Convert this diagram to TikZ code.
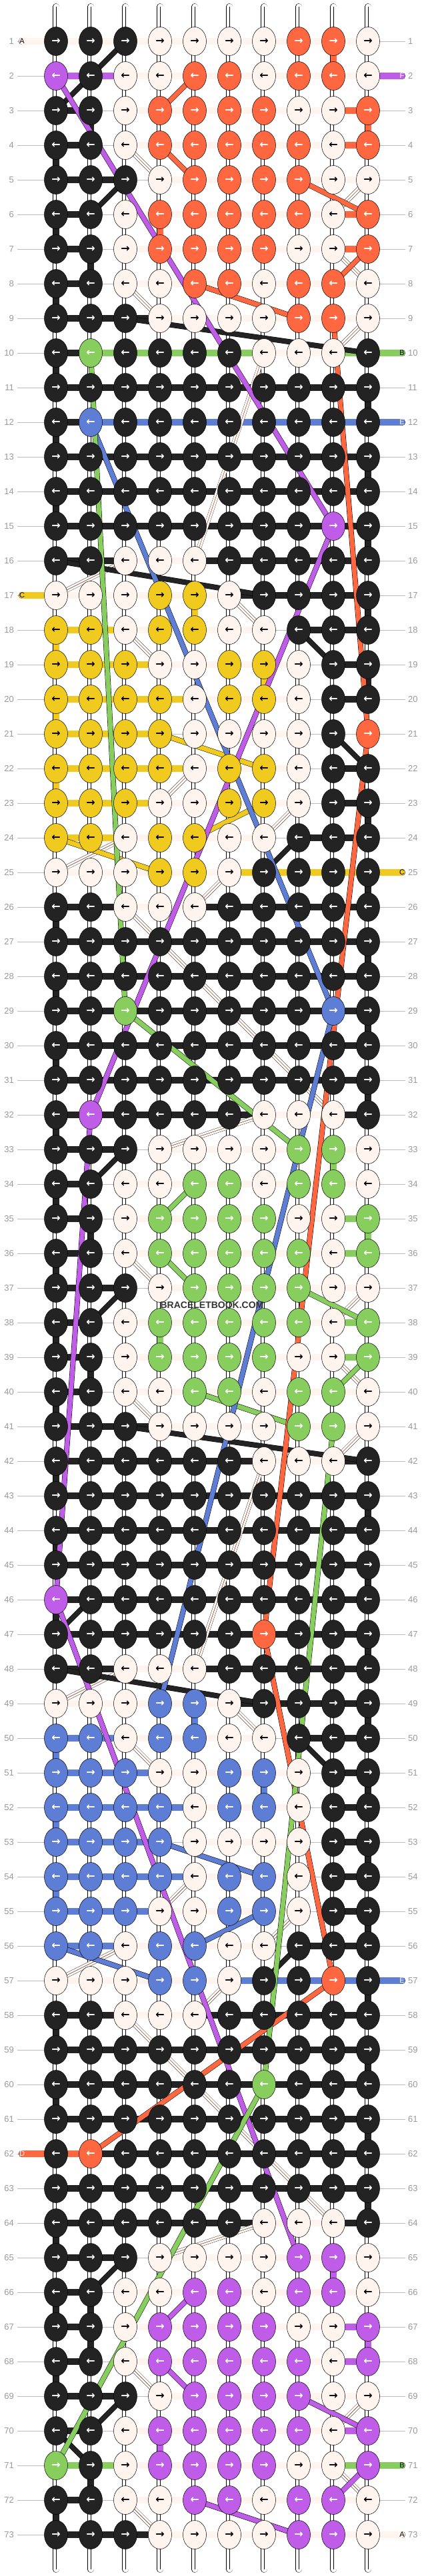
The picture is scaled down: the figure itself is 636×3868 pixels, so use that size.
\documentclass[tikz,border=0pt]{standalone}
\usepackage{fontspec}
\setmainfont{Liberation Sans}
\newfontfamily\arrowfont{DejaVu Sans}
\usetikzlibrary{shapes.geometric}

% thread colours
\definecolor{knK}{HTML}{232323}
\definecolor{knW}{HTML}{FFF5EE}
\definecolor{knO}{HTML}{FF6740}
\definecolor{knP}{HTML}{BF5CE8}
\definecolor{knG}{HTML}{87CE5E}
\definecolor{knB}{HTML}{5E7DD4}
\definecolor{knY}{HTML}{F0CA1F}
\definecolor{numgray}{HTML}{999999}
\definecolor{linegray}{HTML}{BBBBBB}
% arrow colour on each knot colour
\colorlet{arK}{white}\colorlet{arO}{white}\colorlet{arP}{white}
\colorlet{arG}{white}\colorlet{arB}{white}
\colorlet{arW}{black}\colorlet{arY}{black}

\def\nobar{N}

% knot colours, row by row
\def\knotrows{%
1/{K,K,K,W,W,W,W,O,O,W},2/{P,K,W,W,O,O,W,O,O,W},3/{K,K,W,O,O,O,O,W,W,O},%
4/{K,K,W,O,O,O,O,O,W,O},5/{K,K,K,W,O,O,O,O,W,W},6/{K,K,W,O,O,O,O,O,W,O},%
7/{K,K,W,O,O,O,O,W,W,O},8/{K,K,W,W,O,O,W,O,O,W},9/{K,K,K,W,W,W,W,O,O,W},%
10/{K,G,K,K,K,K,W,W,W,K},11/{K,K,K,K,K,K,K,K,K,K},12/{K,B,K,K,K,K,K,K,K,K},%
13/{K,K,K,K,K,K,K,K,K,K},14/{K,K,K,K,K,K,K,K,K,K},15/{K,K,K,K,K,K,K,K,P,K},%
16/{K,K,W,W,W,K,K,K,K,K},17/{W,W,W,Y,Y,W,K,K,K,K},18/{Y,Y,W,Y,Y,W,W,K,K,K},%
19/{Y,Y,Y,W,W,Y,Y,W,K,K},20/{Y,Y,Y,Y,W,Y,Y,W,K,K},21/{Y,Y,Y,Y,W,W,W,W,K,O},%
22/{Y,Y,Y,Y,W,Y,Y,W,K,K},23/{Y,Y,Y,W,W,Y,Y,W,K,K},24/{Y,Y,W,Y,Y,W,W,K,K,K},%
25/{W,W,W,Y,Y,W,K,K,K,K},26/{K,K,W,W,W,K,K,K,K,K},27/{K,K,K,K,K,K,K,K,K,K},%
28/{K,K,K,K,K,K,K,K,K,K},29/{K,K,G,K,K,K,K,K,B,K},30/{K,K,K,K,K,K,K,K,K,K},%
31/{K,K,K,K,K,K,K,K,K,K},32/{K,P,K,K,K,K,W,W,W,K},33/{K,K,K,W,W,W,W,G,G,W},%
34/{K,K,W,W,G,G,W,G,G,W},35/{K,K,W,G,G,G,G,W,W,G},36/{K,K,W,G,G,G,G,G,W,G},%
37/{K,K,K,W,G,G,G,G,W,W},38/{K,K,W,G,G,G,G,G,W,G},39/{K,K,W,G,G,G,G,W,W,G},%
40/{K,K,W,W,G,G,W,G,G,W},41/{K,K,K,W,W,W,W,G,G,W},42/{K,K,K,K,K,K,W,W,W,K},%
43/{K,K,K,K,K,K,K,K,K,K},44/{K,K,K,K,K,K,K,K,K,K},45/{K,K,K,K,K,K,K,K,K,K},%
46/{P,K,K,K,K,K,K,K,K,K},47/{K,K,K,K,K,K,O,K,K,K},48/{K,K,W,W,W,K,K,K,K,K},%
49/{W,W,W,B,B,W,K,K,K,K},50/{B,B,W,B,B,W,W,K,K,K},51/{B,B,B,W,W,B,B,W,K,K},%
52/{B,B,B,B,W,B,B,W,K,K},53/{B,B,B,B,W,W,W,W,K,K},54/{B,B,B,B,W,B,B,W,K,K},%
55/{B,B,B,W,W,B,B,W,K,K},56/{B,B,W,B,B,W,W,K,K,K},57/{W,W,W,B,B,W,K,K,O,K},%
58/{K,K,W,W,W,K,K,K,K,K},59/{K,K,K,K,K,K,K,K,K,K},60/{K,K,K,K,K,K,G,K,K,K},%
61/{K,K,K,K,K,K,K,K,K,K},62/{K,O,K,K,K,K,K,K,K,K},63/{K,K,K,K,K,K,K,K,K,K},%
64/{K,K,K,K,K,K,W,W,W,K},65/{K,K,K,W,W,W,W,P,P,W},66/{K,K,W,W,P,P,W,P,P,W},%
67/{K,K,W,P,P,P,P,W,W,P},68/{K,K,W,P,P,P,P,P,W,P},69/{K,K,K,W,P,P,P,P,W,W},%
70/{K,K,W,P,P,P,P,P,W,P},71/{G,K,W,P,P,P,P,W,W,P},72/{K,K,W,W,P,P,W,P,P,W},%
73/{K,K,K,W,W,W,W,P,P,W}}

% horizontal bars between neighbouring knots (N = none)
\def\barrows{%
1/{W,W,W,W,W,W,W,W,W},2/{P,P,W,W,W,W,W,W,W},3/{K,N,W,W,W,W,W,W,O},%
4/{K,N,W,W,W,W,W,W,O},5/{K,K,N,W,W,W,W,W,W},6/{K,N,W,W,W,W,W,W,O},%
7/{K,N,W,W,W,W,W,W,O},8/{K,N,W,W,W,W,W,W,W},9/{K,K,K,W,W,W,W,W,W},%
10/{K,G,G,G,G,G,W,W,G},11/{K,K,K,K,K,K,K,K,K},12/{K,B,B,B,B,B,B,B,B},%
13/{K,K,K,K,K,K,K,K,K},14/{K,K,K,K,K,K,K,K,K},15/{K,K,K,K,K,K,K,K,K},%
16/{K,K,W,W,K,K,K,K,K},17/{W,W,W,W,W,K,K,K,K},18/{Y,Y,W,W,W,W,N,K,K},%
19/{Y,Y,Y,W,W,W,W,N,K},20/{Y,Y,Y,Y,W,W,W,N,K},21/{Y,Y,Y,N,W,W,W,N,N},%
22/{Y,Y,Y,Y,W,W,W,N,K},23/{Y,Y,Y,W,W,W,W,N,K},24/{Y,Y,W,W,W,W,N,K,K},%
25/{W,W,W,W,W,Y,Y,Y,Y},26/{K,K,W,W,K,K,K,K,K},27/{K,K,K,K,K,K,K,K,K},%
28/{K,K,K,K,K,K,K,K,K},29/{K,K,K,K,K,K,K,K,K},30/{K,K,K,K,K,K,K,K,K},%
31/{K,K,K,K,K,K,K,K,K},32/{K,K,K,K,K,K,W,W,K},33/{K,K,N,W,W,W,W,W,W},%
34/{K,N,W,W,W,W,W,W,W},35/{K,N,W,W,W,W,W,W,G},36/{K,N,W,W,W,W,W,W,G},%
37/{K,K,N,W,W,W,W,W,W},38/{K,N,W,W,W,W,W,W,G},39/{K,N,W,W,W,W,W,W,G},%
40/{K,N,W,W,W,W,W,W,W},41/{K,K,K,W,W,W,W,W,W},42/{K,K,K,K,K,K,W,W,K},%
43/{K,K,K,K,K,K,K,K,K},44/{K,K,K,K,K,K,K,K,K},45/{K,K,K,K,K,K,K,K,K},%
46/{K,K,K,K,K,K,K,K,K},47/{K,K,K,K,K,K,K,K,K},48/{K,K,W,W,K,K,K,K,K},%
49/{W,W,W,W,W,K,K,K,K},50/{B,B,W,W,W,W,N,K,K},51/{B,B,B,W,W,W,W,N,K},%
52/{B,B,B,B,W,W,W,N,K},53/{B,B,B,N,W,W,W,N,K},54/{B,B,B,B,W,W,W,N,K},%
55/{B,B,B,W,W,W,W,N,K},56/{B,B,W,W,W,W,N,K,K},57/{W,W,W,W,W,B,B,B,B},%
58/{K,K,W,W,K,K,K,K,K},59/{K,K,K,K,K,K,K,K,K},60/{K,K,K,K,K,K,K,K,K},%
61/{K,K,K,K,K,K,K,K,K},62/{O,K,K,K,K,K,K,K,K},63/{K,K,K,K,K,K,K,K,K},%
64/{K,K,K,K,K,K,W,W,K},65/{K,K,N,W,W,W,W,W,W},66/{K,N,W,W,W,W,W,W,W},%
67/{K,N,W,W,W,W,W,W,P},68/{K,N,W,W,W,W,W,W,P},69/{K,K,N,W,W,W,W,W,W},%
70/{K,N,W,W,W,W,W,W,P},71/{G,G,W,W,W,W,W,W,G},72/{K,N,W,W,W,W,W,W,W},%
73/{K,K,K,W,W,W,W,W,W}}

\begin{document}
\begin{tikzpicture}[x=1pt,y=-1pt]
\tikzstyle{knot} = [ellipse, draw=black, line width=0.5pt, minimum width=35pt, minimum height=43pt, inner sep=0pt, font=\arrowfont\bfseries\fontsize{16}{16}\selectfont] % one knot
\tikzstyle{rownum} = [inner sep=0pt, text=numgray, font=\fontsize{13}{13}\selectfont] % row numbers
\tikzstyle{rowline} = [draw=linegray, line width=0.8pt]
\tikzstyle{warp} = [draw=black, line width=0.4pt, double=white, double distance=9pt, line cap=round] % white strings
\tikzstyle{warpmid} = [draw=black, line width=0.3pt]
\tikzstyle{endlabel} = [inner sep=0pt, font=\fontsize{11}{11}\selectfont]
\tikzset{
  hbar/.style={draw=black, line width=0.4pt, double=#1, double distance=9.5pt},
  vbar/.style={draw=black, line width=0.4pt, double=#1, double distance=9pt},
  vbar/.default=white,
  endstring/.style={draw=black, line width=0.4pt, double=#1, double distance=9.5pt, line cap=round},
  strand/.style={draw=black, line width=0.5pt, double=#1, double distance=7pt, line join=round},
  thread/.style={draw=black, line width=0.3pt, double=knW, double distance=6.5pt}
}
\useasboundingbox (0,0) rectangle (636,3868);

% row guide lines and numbers
\foreach \rw in {1,...,73} {
  \coordinate (ll-\rw) at (26,{62+(\rw-1)*52});
  \coordinate (lr-\rw) at (608,{62+(\rw-1)*52});
  \draw[rowline] (ll-\rw) -- (lr-\rw);
  \node[rownum, anchor=east] (nl-\rw) at (21,{62+(\rw-1)*52}) {\rw};
  \node[rownum, anchor=west] (nr-\rw) at (612,{62+(\rw-1)*52}) {\rw};
}

% knot grid
\foreach \rw in {1,...,73}
  \foreach \cl in {1,...,10}
    \coordinate (p-\rw-\cl) at ({84+(\cl-1)*52},{62+(\rw-1)*52});

% loose ends at top and bottom
\foreach \cl in {1,...,10} {
  \coordinate (t-\cl) at ({84+(\cl-1)*52},10);
  \coordinate (b-\cl) at ({84+(\cl-1)*52},3858);
  \draw[warp] (t-\cl) -- (p-1-\cl);
  \draw[warp] (p-73-\cl) -- (b-\cl);
  \draw[warpmid] (t-\cl) -- (p-1-\cl);
  \draw[warpmid] (p-73-\cl) -- (b-\cl);
}

% vertical links
\foreach \rw [evaluate=\rw as \nx using int(\rw+1)] in {1,...,72}
  \foreach \cl in {1,...,10} {
    \draw[vbar] (p-\rw-\cl) -- (p-\nx-\cl);
    \draw[warpmid] (p-\rw-\cl) -- (p-\nx-\cl);
  }
\foreach \rw/\cl/\kc in {4/1/K,6/1/K,8/1/K,10/1/K,12/1/K,14/1/K,18/1/Y,20/1/Y,22/1/Y,
    26/1/K,28/1/K,30/1/K,32/1/K,34/1/K,36/1/K,38/1/K,40/1/K,42/1/K,44/1/K,46/1/K,
    50/1/B,52/1/B,54/1/B,58/1/K,60/1/K,64/1/K,66/1/K,68/1/K,72/1/K,
    3/10/O,11/10/K,13/10/K,15/10/K,17/10/K,19/10/K,23/10/K,25/10/K,27/10/K,29/10/K,
    31/10/K,35/10/G,43/10/K,45/10/K,47/10/K,49/10/K,51/10/K,53/10/K,55/10/K,57/10/K,
    59/10/K,61/10/K,63/10/K,67/10/P,
    1/9/O,6/4/O,33/9/G,38/4/G,65/9/P,70/4/P,17/5/Y,49/5/B,19/7/Y,51/7/B,
    3/2/K,7/2/K,35/2/K,39/2/K,66/2/K,67/2/K,71/2/K} {
  \pgfmathtruncatemacro\nx{\rw+1}
  \draw[vbar=kn\kc] (p-\rw-\cl) -- (p-\nx-\cl);
}

% horizontal links
\foreach \rw/\bl in \barrows {
  \foreach \bc [count=\cl] in \bl {
    \edef\tmpbar{\bc}
    \ifx\tmpbar\nobar\else
      \pgfmathtruncatemacro\nx{\cl+1}
      \draw[hbar=kn\bc] (p-\rw-\cl) -- (p-\rw-\nx);
    \fi
  }
}

% working strings coming in from the sides
\foreach \rw/\kc in {1/W,17/Y,62/O} {
  \coordinate (el-\rw) at (33,{62+(\rw-1)*52});
  \draw[endstring=kn\kc] (el-\rw) -- (p-\rw-1);
}
\foreach \rw/\kc in {2/P,10/G,12/B,25/Y,57/B,71/G,73/W} {
  \coordinate (er-\rw) at (603,{62+(\rw-1)*52});
  \draw[endstring=kn\kc] (p-\rw-10) -- (er-\rw);
}

% light threads
\foreach \a/\b in {4-3/5-4,8-3/9-4,5-10/6-9,7-9/8-10,9-10/10-9,10-7/16-5,16-3/17-1,
    17-6/18-7,18-3/19-4,22-5/23-4,23-8/24-7,24-3/25-1,25-6/26-5,26-3/32-9,32-7/33-4,
    36-3/37-4,37-10/38-9,39-9/40-10,40-3/41-4,41-10/42-9,42-7/48-5,48-3/49-1,
    49-6/50-7,50-3/51-4,54-5/55-4,55-8/56-7,56-3/57-1,57-6/58-5,58-3/64-9,64-7/65-4,
    68-3/69-4,69-10/70-9,71-9/72-10,72-3/73-4} {
  \draw[thread] (p-\a) -- (p-\b);
  \draw[warpmid] (p-\a) -- (p-\b);
}

% short colour jumps
\foreach \a/\b/\kc in {1-3/3-1/K,5-3/6-2/K,9-3/10-10/K,16-1/17-7/K,18-8/19-9/K,
    21-9/22-10/K,24-8/25-7/K,33-3/34-2/K,37-3/38-2/K,41-3/42-10/K,46-2/47-1/K,
    48-1/49-7/K,50-8/51-9/K,56-8/57-7/K,65-3/66-2/K,69-3/70-2/K,70-1/71-2/K,
    2-5/3-4/O,4-4/5-5/O,5-8/6-10/O,7-10/8-9/O,8-5/9-8/O,
    34-5/35-4/G,36-4/37-5/G,37-8/38-10/G,39-10/40-9/G,40-5/41-8/G,
    66-5/67-4/P,68-4/69-5/P,69-8/70-10/P,71-10/72-9/P,72-5/73-8/P,
    21-4/22-7/Y,23-7/24-5/Y,24-1/25-4/Y,
    53-4/54-7/B,55-7/56-5/B,56-1/57-4/B}
  \draw[strand=kn\kc] (p-\a) -- (p-\b);

% long strands
\draw[strand=knP] (p-2-1) -- (p-15-9) -- (p-32-2) -- (p-46-1) -- (p-65-8);
\draw[strand=knO] (p-9-9) -- (p-21-10) -- (p-47-7) -- (p-57-9) -- (p-62-2);
\draw[strand=knB] (p-12-2) -- (p-29-9) -- (p-49-4);
\draw[strand=knG] (p-10-2) -- (p-29-3) -- (p-33-8);
\draw[strand=knG] (p-41-9) -- (p-60-7) -- (p-71-1);

% knots
\foreach \rw/\kl in \knotrows
  \foreach \kc [count=\cl] in \kl
    \node[knot, fill=kn\kc, text=ar\kc] (k-\rw-\cl) at (p-\rw-\cl) {\ifodd\rw →\else ←\fi};

% letters on the working strings
\foreach \rw/\lab/\lc in {1/A/black,17/C/black,62/D/white}
  \node[endlabel, text=\lc] (tl-\rw) at (el-\rw) {\lab};
\foreach \rw/\lab/\lc in {2/F/white,10/B/black,12/E/white,25/C/black,57/E/white,71/B/black,73/A/black}
  \node[endlabel, text=\lc] (tr-\rw) at (er-\rw) {\lab};

\node[inner sep=0pt, text=black!80, font=\bfseries\fontsize{14}{14}\selectfont] (wm) at (318,1960) {BRACELETBOOK.COM};
\end{tikzpicture}
\end{document}
